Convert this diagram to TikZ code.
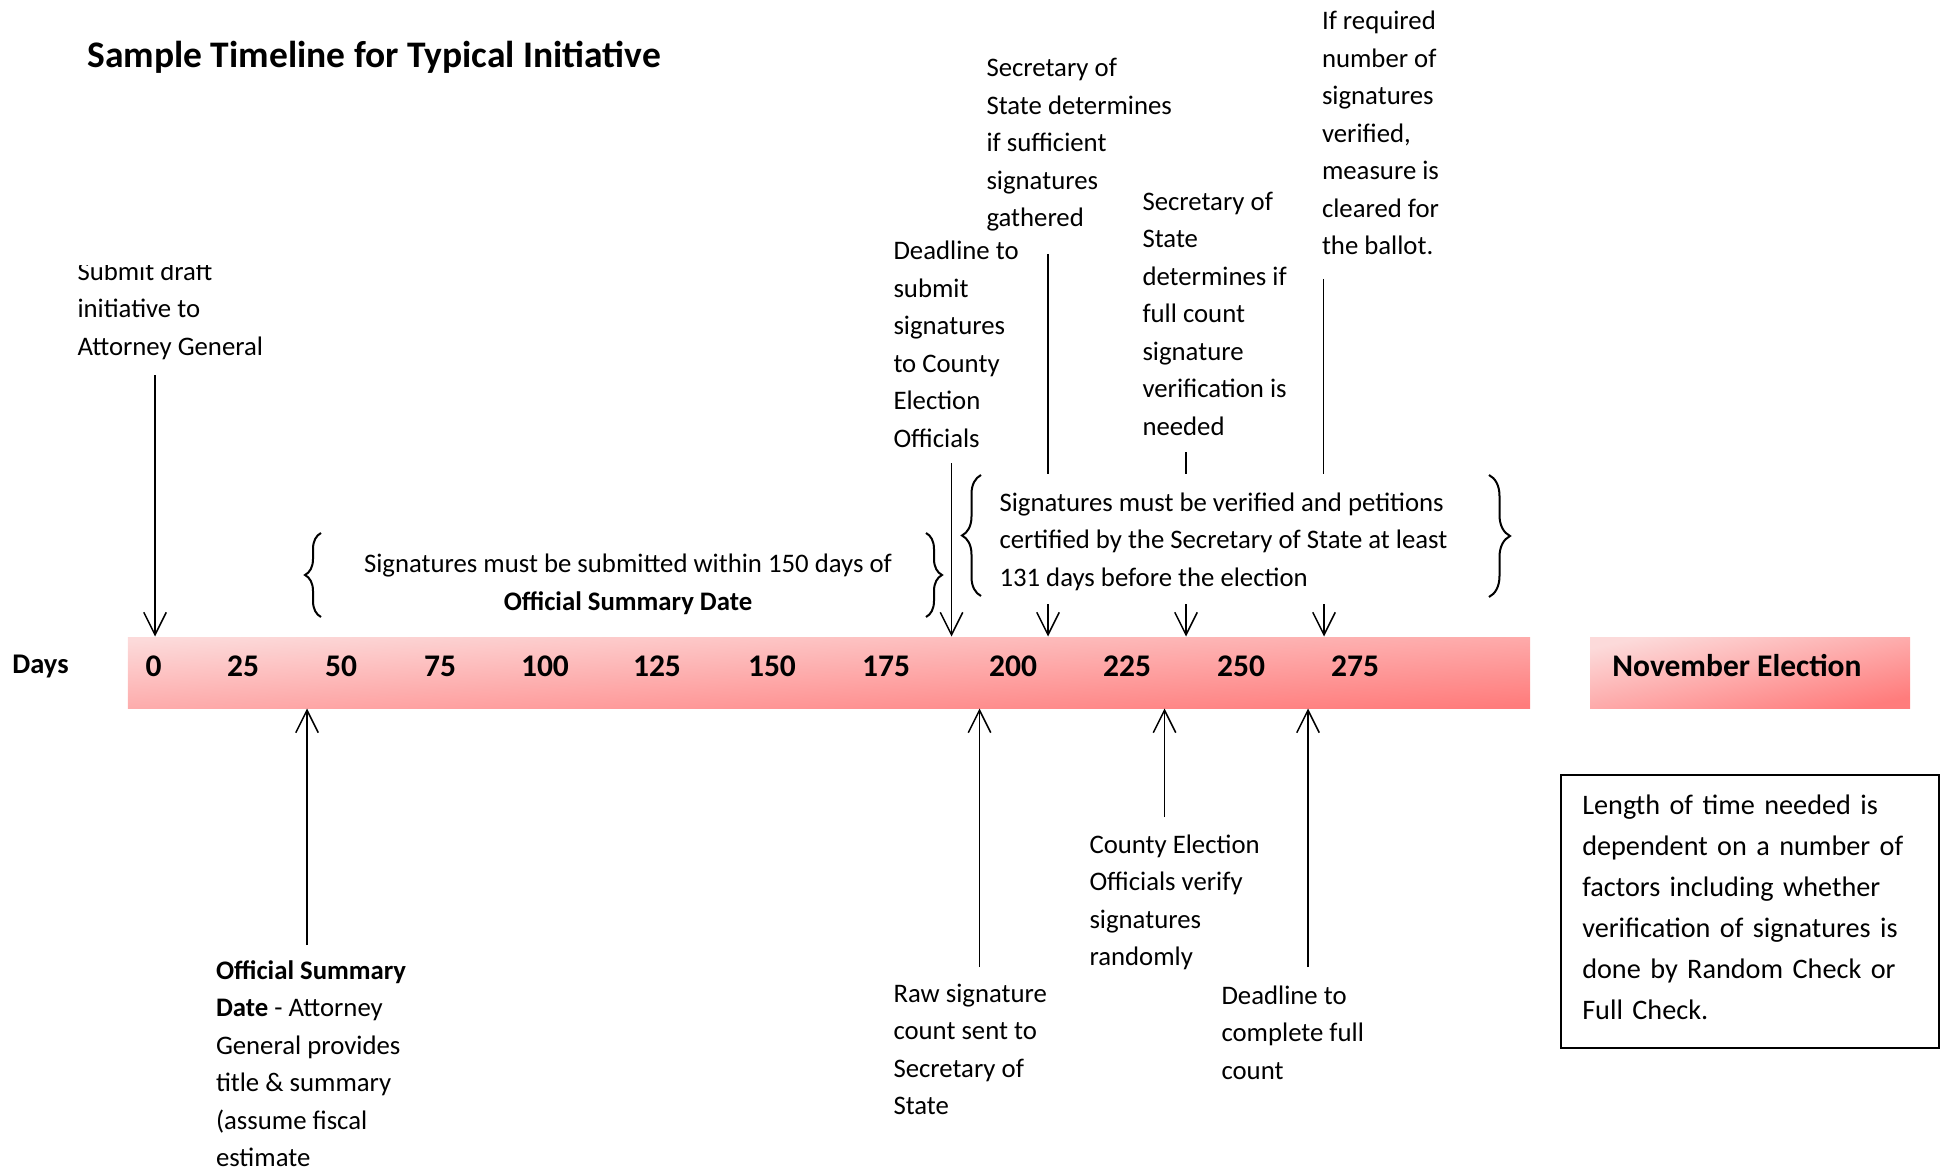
\documentclass[tikz,border=0pt]{standalone}
\usepackage{fontspec}
\setmainfont{Carlito}
\usetikzlibrary{arrows.meta,decorations.pathreplacing}
\definecolor{barlight}{HTML}{FCDADA}
\definecolor{bardark}{HTML}{FF7C7C}

\begin{document}
\begin{tikzpicture}[x=0.4pt, y=-0.4pt,
    txtblock/.style={anchor=north west, inner sep=0pt, align=left, font=\fontsize{10.7}{15}\selectfont},
    ptr/.style={-{Straight Barb[length=9pt,width=9pt]}, line width=0.6pt},
    daynum/.style={font=\fontsize{12.6}{15}\selectfont\bfseries},
    barfill/.style={top color=barlight, bottom color=bardark, shading angle=#1, inner sep=0pt},
    curly/.style={decorate, decoration={brace, amplitude=#1}, line width=0.8pt}]
    \useasboundingbox (0,0) rectangle (1942,1172);

    % Title
    \node[anchor=west, inner sep=0pt, font=\fontsize{15}{18}\selectfont\bfseries] (title) at (87,57.5) {Sample Timeline for Typical Initiative};

    % Timeline bar with days
    \node[font=\fontsize{11.4}{14}\selectfont\bfseries] (days) at (40.5,666) {Days};
    \node[barfill=3, minimum width=560.8pt, minimum height=28.4pt] (bar) at (829,672.5) {};
    \foreach \d/\x in {0/153.6,25/243,50/341,75/440,100/545,125/657,150/772,175/886,200/1013,225/1127,250/1241,275/1355}
        \node[daynum] (n\d) at (\x,666) {\d};
    \node[barfill=12, minimum width=128pt, minimum height=28.4pt] (nov) at (1750,672.5) {};
    \node[font=\fontsize{12.6}{15}\selectfont\bfseries] (novtext) at (1737,666) {November Election};

    % Steps above the bar
    \begin{scope}
        \clip (60,266) rectangle (330,390);
        \node[txtblock] (submit) at (77,261) {Submit draft\\initiative to\\Attorney General};
    \end{scope}
    \node[txtblock] (deadline) at (893,240.5) {Deadline to\\submit\\signatures\\to County\\Election\\Officials};
    \node[txtblock] (sufficient) at (986,58) {Secretary of\\State determines\\if sufficient\\signatures\\gathered};
    \node[txtblock] (fullcount) at (1142,191.5) {Secretary of\\State\\determines if\\full count\\signature\\verification is\\needed};
    \node[txtblock] (cleared) at (1321.5,10.5) {If required\\number of\\signatures\\verified,\\measure is\\cleared for\\the ballot.};

    % Brace notes
    \node[align=center, inner sep=0pt, font=\fontsize{10.7}{15}\selectfont] (within) at (628,584.5)
        {Signatures must be submitted within 150 days of\\\textbf{Official Summary Date}};
    \draw[curly=6.4pt] (321,617) -- (321,533);
    \draw[curly=6.4pt] (926,533) -- (926,617);
    \node[txtblock] (certify) at (999,492) {Signatures must be verified and petitions\\certified by the Secretary of State at least\\131 days before the election};
    \draw[curly=7.6pt] (981,596) -- (981,475);
    \draw[curly=8.4pt] (1489,475) -- (1489,597);

    % Steps below the bar
    \node[txtblock] (summary) at (215.5,960) {\textbf{Official Summary}\\\textbf{Date} - Attorney\\General provides\\title \& summary\\(assume fiscal\\estimate};
    \node[txtblock] (rawcount) at (893,983.5) {Raw signature\\count sent to\\Secretary of\\State};
    \node[txtblock] (random) at (1089,834) {County Election\\Officials verify\\signatures\\randomly};
    \node[txtblock] (complete) at (1221,985) {Deadline to\\complete full\\count};

    % Side note
    \node[draw, line width=1pt, text width=134pt, inner xsep=8.6pt, minimum height=109.2pt, align=left, text depth=85.3pt,
        font=\fontsize{11.3}{16.4}\selectfont] (note) at (1749.75,911.5)
        {Length of time needed is\\dependent on a number of\\factors including whether\\verification of signatures is\\done by Random Check or\\Full Check.};

    % Connectors down to the bar
    \coordinate (submitA) at (155,375);
    \coordinate (deadlineA) at (951.5,463);
    \coordinate (sufficientA) at (1048,254);
    \coordinate (sufficientB) at (1048,474);
    \coordinate (sufficientC) at (1048,604);
    \coordinate (fullcountA) at (1186,452);
    \coordinate (fullcountB) at (1186,474);
    \coordinate (fullcountC) at (1186,604);
    \coordinate (clearedA) at (1323.5,279);
    \coordinate (clearedB) at (1323.5,474);
    \coordinate (clearedC) at (1324,604);
    \draw[ptr] (submitA) -- (submitA |- bar.north);
    \draw[ptr] (deadlineA) -- (deadlineA |- bar.north);
    \draw[line width=0.6pt] (sufficientA) -- (sufficientB);
    \draw[ptr] (sufficientC) -- (sufficientC |- bar.north);
    \draw[line width=0.6pt] (fullcountA) -- (fullcountB);
    \draw[ptr] (fullcountC) -- (fullcountC |- bar.north);
    \draw[line width=0.6pt] (clearedA) -- (clearedB);
    \draw[ptr] (clearedC) -- (clearedC |- bar.north);

    % Connectors up to the bar
    \coordinate (summaryA) at (307,945);
    \coordinate (rawcountA) at (979.5,967);
    \coordinate (randomA) at (1164.5,817);
    \coordinate (completeA) at (1308,967);
    \draw[ptr] (summaryA) -- (summaryA |- bar.south);
    \draw[ptr] (rawcountA) -- (rawcountA |- bar.south);
    \draw[ptr] (randomA) -- (randomA |- bar.south);
    \draw[ptr] (completeA) -- (completeA |- bar.south);
\end{tikzpicture}
\end{document}
